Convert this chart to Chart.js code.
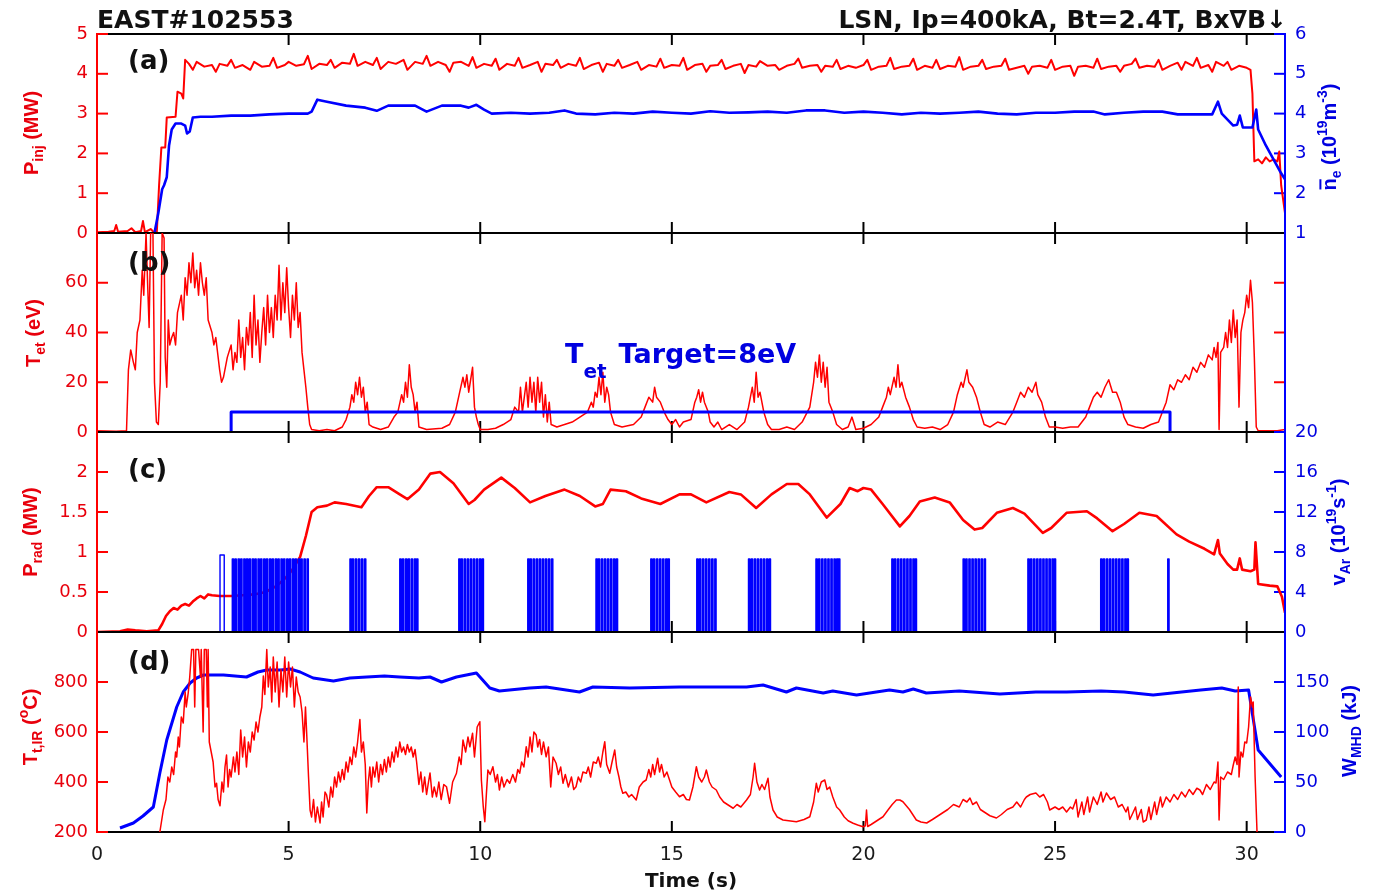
<!DOCTYPE html>
<html><head><meta charset="utf-8">
<script src="https://cdn.jsdelivr.net/npm/chart.js@4.4.1/dist/chart.umd.min.js"></script>
<style>
html,body{margin:0;padding:0;background:#fff;}
#wrap{position:relative;width:1378px;height:891px;overflow:hidden;background:#fff}
#wrap canvas{position:absolute;left:0;top:0}
</style></head><body>
<div id="wrap">
<canvas id="ca" width="1378" height="891"></canvas>
<canvas id="cb" width="1378" height="891"></canvas>
<canvas id="cc" width="1378" height="891"></canvas>
<canvas id="cd" width="1378" height="891"></canvas>
</div>
<script>
// ---------------- texts ----------------
const titleLeft = 'EAST#102553';
const titleRight = 'LSN, Ip=400kA, Bt=2.4T, Bx\u2207B\u2193';
const xTitle = 'Time (s)';
const panelTags = ['(a)', '(b)', '(c)', '(d)'];

// ---------------- tick labels ----------------
const timeTicks = [0, 5, 10, 15, 20, 25, 30];
const aLeftTicks = [0, 1, 2, 3, 4, 5];
const aRightTicks = [1, 2, 3, 4, 5, 6];
const bLeftTicks = [0, 20, 40, 60];
const cLeftTicks = [0, 0.5, 1, 1.5, 2];
const cRightTicks = [0, 4, 8, 12, 16, 20];
const dLeftTicks = [200, 400, 600, 800];
const dRightTicks = [0, 50, 100, 150];

// ---------------- data: [time (s), value] ----------------
// (a) injected power P_inj (MW)
const pinjSeries = [[0,0.02],[0.3,0.03],[0.45,0.05],[0.5,0.2],[0.55,0.03],[0.8,0.05],[0.9,0.12],[1.0,0.02],[1.15,0.05],[1.2,0.3],[1.25,0.02],[1.4,0.1],[1.5,0],[1.56,0],[1.62,1.2],[1.68,2.15],[1.78,2.15],[1.82,2.9],[2.05,2.92],[2.1,3.55],[2.2,3.5],[2.25,3.38],[2.3,4.35],
[2.4,4.25],[2.5,4.1],[2.6,4.3],[2.8,4.18],[3.0,4.22],[3.1,4.05],[3.2,4.25],[3.4,4.2],[3.5,4.35],[3.6,4.15],[3.8,4.22],[4.0,4.1],[4.1,4.3],[4.3,4.18],[4.5,4.2],[4.6,4.4],[4.7,4.15],[4.9,4.22],[5.0,4.3],[5.2,4.2],[5.4,4.24],[5.5,4.45],[5.6,4.12],[5.8,4.25],[6.0,4.22],[6.1,4.35],[6.2,4.15],[6.4,4.28],[6.6,4.25],[6.7,4.5],[6.8,4.2],[7.0,4.3],[7.2,4.22],[7.3,4.4],[7.4,4.12],[7.6,4.3],[7.8,4.25],[8.0,4.35],[8.1,4.1],[8.3,4.3],[8.5,4.25],[8.6,4.45],[8.7,4.2],[8.9,4.3],[9.1,4.22],[9.2,4.05],[9.3,4.28],[9.5,4.3],[9.7,4.2],[9.8,4.42],[9.9,4.15],[10.1,4.25],[10.3,4.2],[10.4,4.38],[10.5,4.1],[10.7,4.25],[10.9,4.2],[11.0,4.4],[11.1,4.15],[11.3,4.22],[11.5,4.3],[11.6,4.05],[11.7,4.25],[11.9,4.22],[12.0,4.35],[12.1,4.15],[12.3,4.25],[12.5,4.2],[12.6,4.4],[12.7,4.12],[12.9,4.22],[13.1,4.28],[13.2,4.05],[13.3,4.25],[13.5,4.2],[13.6,4.35],[13.7,4.15],[13.9,4.22],[14.1,4.3],[14.2,4.1],[14.4,4.22],[14.6,4.18],[14.7,4.38],[14.8,4.15],[15.0,4.22],[15.2,4.2],[15.3,4.4],[15.4,4.1],[15.6,4.22],[15.8,4.25],[15.9,4.05],[16.0,4.2],[16.2,4.22],[16.3,4.35],[16.4,4.12],[16.6,4.2],[16.8,4.25],[16.9,4.02],[17.0,4.22],[17.2,4.18],[17.3,4.32],[17.5,4.2],[17.7,4.22],[17.8,4.1],[18.0,4.2],[18.2,4.25],[18.3,4.38],[18.4,4.15],[18.6,4.2],[18.8,4.22],[18.9,4.05],[19.0,4.2],[19.2,4.18],[19.3,4.35],[19.4,4.12],[19.6,4.2],[19.8,4.15],[20.0,4.22],[20.1,4.35],[20.2,4.1],[20.4,4.18],[20.6,4.2],[20.7,4.4],[20.8,4.12],[21.0,4.18],[21.2,4.2],[21.3,4.38],[21.4,4.1],[21.6,4.2],[21.8,4.15],[21.9,4.35],[22.0,4.12],[22.2,4.2],[22.4,4.18],[22.5,4.42],[22.6,4.1],[22.8,4.18],[23.0,4.2],[23.1,4.35],[23.2,4.12],[23.4,4.18],[23.6,4.2],[23.7,4.38],[23.8,4.1],[24.0,4.15],[24.2,4.2],[24.3,4.0],[24.4,4.18],[24.6,4.2],[24.8,4.15],[24.9,4.35],[25.0,4.1],[25.2,4.18],[25.4,4.2],[25.5,3.95],[25.6,4.18],[25.8,4.2],[26.0,4.15],[26.1,4.38],[26.2,4.12],[26.4,4.18],[26.6,4.2],[26.7,4.05],[26.8,4.2],[27.0,4.25],[27.1,4.38],[27.2,4.15],[27.4,4.2],[27.6,4.18],[27.7,4.35],[27.8,4.1],[28.0,4.2],[28.2,4.28],[28.3,4.1],[28.4,4.3],[28.6,4.2],[28.7,4.4],[28.8,4.15],[29.0,4.22],[29.1,4.05],[29.2,4.3],[29.4,4.2],[29.5,4.3],[29.6,4.1],[29.8,4.2],[30.0,4.15],[30.1,4.1],[30.15,3.5],[30.2,1.8],[30.3,1.85],[30.4,1.75],[30.5,1.9],[30.6,1.8],[30.7,1.85],[30.8,1.8],[30.85,2.05],[30.9,1.2],[31.0,0.5]];

// (a) line-averaged density n_e (1e19 m^-3)
const neSeries = [[1.5,1.0],[1.6,1.5],[1.7,2.1],[1.75,2.2],[1.82,2.4],[1.88,3.2],[1.95,3.6],[2.05,3.75],[2.2,3.75],[2.3,3.7],[2.35,3.5],[2.42,3.55],[2.5,3.9],[2.7,3.92],[3.0,3.92],[3.5,3.95],[4.0,3.95],[4.5,3.98],[5.0,4.0],[5.5,4.0],[5.6,4.05],[5.75,4.35],[6.0,4.3],[6.5,4.2],[7.0,4.15],[7.3,4.07],[7.6,4.2],[8.0,4.2],[8.3,4.2],[8.6,4.05],[9.0,4.2],[9.5,4.2],[9.7,4.15],[9.9,4.22],[10.1,4.1],[10.3,4.0],[10.8,4.02],[11.3,4.0],[11.8,4.02],[12.2,4.08],[12.5,4.0],[13.0,3.98],[13.5,4.02],[14.0,4.0],[14.5,4.05],[15.0,4.02],[15.5,4.0],[16.0,4.06],[16.5,4.02],[17.0,4.03],[17.5,4.05],[18.0,4.02],[18.5,4.08],[19.0,4.08],[19.5,4.02],[20.0,4.05],[20.5,4.02],[21.0,3.98],[21.5,4.02],[22.0,4.0],[22.5,4.02],[23.0,4.05],[23.5,4.0],[24.0,3.98],[24.5,4.02],[25.0,4.02],[25.5,4.05],[26.0,4.05],[26.3,3.98],[26.8,4.02],[27.3,4.05],[27.8,4.05],[28.2,3.98],[28.6,3.98],[29.1,3.98],[29.25,4.3],[29.35,4.0],[29.5,3.85],[29.65,3.7],[29.75,3.72],[29.82,3.95],[29.9,3.65],[30.15,3.65],[30.25,4.1],[30.3,3.6],[30.5,3.2],[30.7,2.85],[30.9,2.5],[31.0,2.35]];

// (b) target electron temperature T_et (eV)
const tetSeries = [[0,0.5],[0.5,0.3],[0.77,0.5],[0.82,25],[0.88,33],[0.95,28],[1.0,25],[1.05,40],[1.12,45],[1.18,65],[1.22,55],[1.28,80],[1.32,60],[1.36,42],[1.4,80],[1.46,80],[1.5,20],[1.55,4],[1.6,3],[1.65,20],[1.7,80],[1.75,78],[1.78,30],[1.82,18],[1.86,45],[1.9,35],[1.95,38],[2.0,40],[2.05,35],[2.1,48],[2.2,55],[2.25,45],[2.3,62],[2.35,55],[2.4,68],[2.45,60],[2.5,72],[2.55,58],[2.6,65],[2.65,55],[2.7,68],[2.75,60],[2.8,55],[2.85,62],[2.9,45],[3.0,40],[3.05,35],[3.1,38],[3.2,25],[3.25,20],[3.3,22],[3.4,30],[3.5,35],[3.55,25],[3.6,32],[3.65,28],[3.7,45],[3.75,30],[3.8,38],[3.85,25],[3.9,42],[3.95,35],[4.0,48],[4.05,30],[4.1,55],[4.15,35],[4.2,45],[4.25,28],[4.3,40],[4.35,50],[4.4,35],[4.45,55],[4.5,40],[4.55,50],[4.6,38],[4.65,55],[4.7,45],[4.75,67],[4.8,45],[4.85,60],[4.9,48],[4.95,66],[5.0,50],[5.05,38],[5.1,55],[5.15,45],[5.2,60],[5.25,42],[5.3,48],[5.35,32],[5.4,25],[5.45,18],[5.5,10],[5.55,3],[5.6,1],[5.8,0.5],[6.0,1],[6.2,0.5],[6.4,2],[6.5,5],[6.6,10],[6.65,15],[6.7,12],[6.75,20],[6.8,15],[6.85,22],[6.9,14],[6.95,18],[7.0,8],[7.05,12],[7.1,3],[7.2,2],[7.4,1],[7.6,2],[7.75,6],[7.85,8],[7.95,15],[8.0,12],[8.05,20],[8.1,14],[8.15,27],[8.2,18],[8.25,15],[8.3,8],[8.35,12],[8.4,2],[8.6,1],[9.0,1.5],[9.2,3],[9.35,8],[9.45,15],[9.55,22],[9.6,18],[9.65,23],[9.7,16],[9.8,26],[9.85,10],[9.9,6],[9.95,3],[10.0,1],[10.2,1],[10.4,1.5],[10.6,3],[10.8,5],[10.9,10],[11.0,8],[11.05,18],[11.1,8],[11.2,20],[11.25,10],[11.3,22],[11.35,12],[11.4,20],[11.45,8],[11.5,22],[11.55,12],[11.6,20],[11.65,6],[11.7,15],[11.75,4],[11.8,12],[11.85,3],[12.0,2],[12.2,3],[12.4,4],[12.6,6],[12.8,8],[12.9,12],[12.95,10],[13.0,16],[13.05,14],[13.1,22],[13.15,15],[13.2,24],[13.25,12],[13.3,18],[13.35,15],[13.4,8],[13.5,3],[13.7,2],[14.0,3],[14.2,6],[14.3,10],[14.4,14],[14.5,12],[14.55,18],[14.6,14],[14.7,12],[14.8,8],[14.9,5],[15.0,3],[15.1,5],[15.2,2],[15.3,4],[15.5,5],[15.6,12],[15.65,14],[15.7,17],[15.75,12],[15.8,16],[15.85,12],[15.95,8],[16.0,4],[16.1,2],[16.2,4],[16.3,1],[16.5,3],[16.7,1],[16.9,4],[17.0,10],[17.05,14],[17.1,18],[17.15,12],[17.2,24],[17.25,14],[17.3,16],[17.4,8],[17.5,3],[17.6,1],[17.8,1],[18.0,2],[18.2,1],[18.4,4],[18.6,10],[18.7,20],[18.75,28],[18.8,22],[18.85,31],[18.9,20],[18.95,28],[19.0,18],[19.05,26],[19.1,12],[19.2,8],[19.3,3],[19.45,1],[19.6,2],[19.7,6],[19.8,1],[20.0,1.5],[20.2,3],[20.4,6],[20.5,10],[20.6,14],[20.65,18],[20.7,15],[20.8,22],[20.85,18],[20.9,27],[20.95,18],[21.0,20],[21.1,14],[21.2,10],[21.3,5],[21.4,2],[21.6,1.5],[21.8,2],[22.0,1],[22.2,3],[22.35,8],[22.45,15],[22.55,20],[22.6,18],[22.7,25],[22.75,20],[22.85,18],[22.95,14],[23.05,8],[23.15,3],[23.3,2],[23.5,4],[23.7,3],[23.9,8],[24.0,12],[24.1,16],[24.2,14],[24.3,18],[24.4,16],[24.5,20],[24.55,15],[24.65,12],[24.75,6],[24.85,2],[25.0,2],[25.2,1.5],[25.4,2],[25.6,2],[25.8,6],[25.9,10],[26.0,14],[26.1,16],[26.2,14],[26.3,18],[26.4,21],[26.5,16],[26.6,16],[26.7,12],[26.8,6],[26.9,3],[27.1,2],[27.3,1.5],[27.5,3],[27.7,4],[27.8,8],[27.9,12],[28.0,19],[28.1,17],[28.2,21],[28.3,20],[28.4,23],[28.5,21],[28.6,26],[28.7,24],[28.8,28],[28.9,26],[29.0,31],[29.1,29],[29.15,34],[29.2,30],[29.25,36],[29.28,1],[29.32,32],[29.4,34],[29.45,40],[29.5,34],[29.55,45],[29.6,36],[29.65,49],[29.7,38],[29.75,45],[29.8,10],[29.85,40],[29.9,45],[29.95,48],[30.0,55],[30.05,50],[30.1,61],[30.15,52],[30.2,30],[30.25,2],[30.3,0.5],[30.8,0.5],[31.0,1]];

// (b) feedback target (eV)
const tetTarget = [[3.5,0],[3.5,8],[28.0,8],[28.0,0]];

// (c) radiated power P_rad (MW)
const pradSeries = [[0,0],[0.6,0.01],[0.8,0.03],[1.0,0.02],[1.3,0.01],[1.6,0.02],[1.7,0.1],[1.8,0.2],[1.9,0.26],[2.0,0.3],[2.1,0.28],[2.2,0.33],[2.3,0.35],[2.4,0.33],[2.5,0.38],[2.6,0.42],[2.7,0.45],[2.8,0.42],[2.9,0.47],[3.0,0.46],[3.2,0.45],[3.5,0.45],[3.8,0.46],[4.1,0.47],[4.4,0.5],[4.7,0.58],[4.95,0.69],[5.1,0.78],[5.3,0.94],[5.45,1.2],[5.6,1.5],[5.75,1.56],[6.0,1.58],[6.2,1.62],[6.5,1.6],[6.9,1.56],[7.1,1.7],[7.3,1.81],[7.6,1.81],[7.9,1.72],[8.1,1.66],[8.4,1.78],[8.7,1.98],[8.95,2.0],[9.3,1.86],[9.7,1.6],[9.85,1.65],[10.1,1.78],[10.55,1.93],[10.9,1.8],[11.3,1.62],[11.7,1.7],[12.2,1.78],[12.6,1.7],[13.0,1.57],[13.2,1.6],[13.4,1.78],[13.8,1.76],[14.2,1.67],[14.7,1.6],[15.2,1.72],[15.5,1.72],[15.9,1.62],[16.5,1.75],[16.8,1.72],[17.2,1.55],[17.6,1.72],[18.0,1.85],[18.3,1.85],[18.6,1.72],[19.04,1.43],[19.4,1.6],[19.64,1.8],[19.85,1.76],[20.0,1.8],[20.2,1.78],[20.5,1.6],[20.95,1.32],[21.2,1.45],[21.47,1.63],[21.86,1.68],[22.25,1.62],[22.6,1.4],[22.9,1.28],[23.1,1.3],[23.48,1.49],[23.9,1.55],[24.2,1.48],[24.68,1.24],[24.9,1.3],[25.3,1.49],[25.83,1.51],[26.1,1.42],[26.5,1.26],[26.8,1.35],[27.2,1.49],[27.65,1.45],[28.17,1.22],[28.5,1.13],[28.9,1.04],[29.15,0.97],[29.25,1.15],[29.3,0.98],[29.5,0.85],[29.65,0.78],[29.75,0.78],[29.82,0.92],[29.88,0.78],[30.1,0.76],[30.2,0.78],[30.23,1.12],[30.3,0.6],[30.6,0.58],[30.8,0.57],[30.92,0.44],[31.0,0.24]];

// (c) argon puff pulses v_Ar (1e19 s^-1)
const arFirstPulse = [3.21, 3.32];
const arFirstPulseH = 7.7;
const arPulseH = 7.3;
const arPulseWidth = 0.035;
const arPulseStarts = [3.53,3.60,3.68,3.75,3.83,3.90,3.97,4.05,4.12,4.20,4.27,4.35,4.42,4.50,4.57,4.65,4.72,4.80,4.87,4.95,5.02,5.10,5.17,5.25,5.32,5.40,5.48,
6.60,6.66,6.74,6.82,6.90,6.98,
7.90,7.97,8.05,8.12,8.20,8.28,8.34,
9.44,9.50,9.58,9.66,9.74,9.82,9.90,9.98,10.05,
11.24,11.30,11.38,11.46,11.54,11.62,11.70,11.78,11.86,
13.02,13.08,13.16,13.24,13.32,13.40,13.48,13.55,
14.45,14.52,14.60,14.68,14.76,14.84,14.90,
15.65,15.72,15.80,15.88,15.96,16.04,16.12,
17.00,17.07,17.15,17.23,17.31,17.39,17.47,17.54,
18.76,18.83,18.91,18.99,19.07,19.15,19.23,19.30,19.35,
20.74,20.81,20.89,20.97,21.05,21.13,21.21,21.29,21.35,
22.60,22.67,22.75,22.83,22.91,22.99,23.07,23.15,
24.29,24.36,24.44,24.52,24.60,24.68,24.76,24.84,24.92,24.98,
26.19,26.26,26.34,26.42,26.50,26.58,26.66,26.74,26.82,26.88,
27.94];

// (d) IR target temperature T_t,IR (degC)
const ttirSeries = [[1.55,100],[1.64,200],[1.73,288],[1.8,330],[1.85,420],[1.9,400],[1.95,460],[2.0,430],[2.05,520],[2.08,500],[2.12,580],[2.15,540],[2.2,660],[2.25,636],[2.3,760],[2.33,700],[2.38,756],[2.42,820],[2.47,930],[2.52,930],[2.55,700],[2.58,930],[2.65,930],[2.7,820],[2.72,930],[2.77,600],[2.8,930],[2.85,930],[2.88,700],[2.9,930],[2.93,560],[2.98,520],[3.03,480],[3.08,380],[3.12,395],[3.16,330],[3.21,305],[3.26,400],[3.3,360],[3.34,460],[3.38,508],[3.42,380],[3.46,450],[3.5,420],[3.56,500],[3.6,440],[3.65,520],[3.7,430],[3.75,608],[3.8,500],[3.85,580],[3.9,460],[3.95,560],[4.0,520],[4.05,600],[4.1,568],[4.15,640],[4.2,600],[4.25,660],[4.3,700],[4.34,824],[4.38,750],[4.43,930],[4.47,780],[4.52,860],[4.56,720],[4.6,900],[4.65,760],[4.7,880],[4.75,700],[4.8,850],[4.85,760],[4.9,900],[4.95,740],[5.0,880],[5.05,780],[5.1,860],[5.15,700],[5.2,820],[5.25,760],[5.3,740],[5.35,680],[5.4,560],[5.44,700],[5.47,600],[5.52,420],[5.56,288],[5.6,260],[5.65,330],[5.7,240],[5.75,300],[5.82,236],[5.86,320],[5.9,260],[5.95,360],[5.99,349],[6.05,300],[6.1,380],[6.15,340],[6.2,420],[6.25,380],[6.3,440],[6.35,400],[6.4,450],[6.45,410],[6.5,480],[6.55,440],[6.6,500],[6.65,470],[6.7,540],[6.75,500],[6.8,560],[6.86,650],[6.9,520],[6.95,560],[7.0,470],[7.04,276],[7.08,400],[7.12,460],[7.16,380],[7.2,460],[7.25,420],[7.3,480],[7.35,400],[7.4,470],[7.45,430],[7.5,490],[7.55,440],[7.6,500],[7.65,460],[7.7,520],[7.75,480],[7.8,540],[7.85,500],[7.9,560],[7.95,520],[8.0,540],[8.05,510],[8.1,550],[8.15,520],[8.2,540],[8.25,500],[8.3,530],[8.34,480],[8.4,390],[8.45,440],[8.5,360],[8.55,420],[8.6,350],[8.65,400],[8.69,436],[8.75,340],[8.8,380],[8.86,341],[8.92,400],[8.98,330],[9.05,390],[9.12,381],[9.2,315],[9.28,400],[9.38,435],[9.45,500],[9.5,470],[9.55,568],[9.62,520],[9.68,580],[9.73,541],[9.8,595],[9.85,500],[9.92,620],[9.99,641],[10.03,408],[10.08,300],[10.12,241],[10.16,350],[10.2,448],[10.26,430],[10.33,461],[10.4,400],[10.45,430],[10.5,368],[10.56,420],[10.62,380],[10.7,410],[10.77,395],[10.85,430],[10.92,400],[10.98,450],[11.03,435],[11.08,480],[11.14,460],[11.2,541],[11.25,500],[11.3,580],[11.35,520],[11.4,600],[11.46,588],[11.5,540],[11.55,570],[11.6,510],[11.65,560],[11.72,501],[11.78,540],[11.84,380],[11.9,500],[11.98,475],[12.04,430],[12.1,460],[12.16,395],[12.22,430],[12.3,380],[12.38,420],[12.44,370],[12.5,381],[12.56,420],[12.62,400],[12.68,440],[12.77,435],[12.82,460],[12.88,420],[12.95,480],[13.03,475],[13.08,500],[13.14,460],[13.2,520],[13.25,561],[13.3,470],[13.38,435],[13.44,480],[13.51,528],[13.56,460],[13.62,420],[13.67,380],[13.72,355],[13.8,360],[13.88,340],[13.95,350],[14.07,328],[14.15,380],[14.25,400],[14.33,408],[14.4,450],[14.45,420],[14.5,470],[14.55,430],[14.63,495],[14.68,440],[14.73,470],[14.8,420],[14.87,440],[14.94,408],[15.0,380],[15.1,360],[15.2,341],[15.3,350],[15.38,330],[15.46,328],[15.55,380],[15.64,461],[15.7,420],[15.78,400],[15.85,420],[15.9,448],[15.98,400],[16.05,380],[16.16,368],[16.25,340],[16.35,320],[16.45,310],[16.6,295],[16.7,310],[16.8,300],[16.95,328],[17.05,350],[17.12,420],[17.16,475],[17.22,400],[17.29,368],[17.35,390],[17.42,370],[17.51,415],[17.56,340],[17.64,288],[17.75,260],[17.9,248],[18.05,245],[18.25,241],[18.45,250],[18.6,261],[18.7,320],[18.77,395],[18.82,360],[18.9,400],[18.99,408],[19.05,370],[19.12,380],[19.2,340],[19.3,300],[19.38,288],[19.5,260],[19.6,245],[19.73,235],[19.85,228],[19.99,221],[20.05,225],[20.08,288],[20.11,222],[20.2,230],[20.35,245],[20.51,261],[20.65,290],[20.75,310],[20.86,328],[20.95,328],[21.03,321],[21.2,290],[21.38,248],[21.5,240],[21.65,236],[21.8,250],[22.0,270],[22.2,290],[22.35,310],[22.5,300],[22.6,330],[22.7,320],[22.78,336],[22.85,310],[22.95,320],[23.05,290],[23.15,280],[23.3,265],[23.47,256],[23.6,270],[23.75,290],[23.9,300],[24.0,320],[24.1,300],[24.2,330],[24.25,340],[24.35,350],[24.5,356],[24.6,340],[24.7,350],[24.8,320],[24.86,288],[25.0,300],[25.1,290],[25.2,300],[25.3,280],[25.4,300],[25.46,292],[25.55,330],[25.6,260],[25.7,320],[25.75,270],[25.85,340],[25.9,280],[26.0,340],[26.1,310],[26.2,360],[26.25,320],[26.34,356],[26.45,330],[26.55,340],[26.65,300],[26.75,310],[26.85,280],[26.9,300],[26.95,250],[27.03,276],[27.1,300],[27.15,250],[27.25,290],[27.3,240],[27.38,248],[27.45,300],[27.5,250],[27.6,320],[27.65,270],[27.75,340],[27.8,300],[27.9,340],[28.0,320],[28.1,350],[28.2,330],[28.3,360],[28.4,340],[28.5,370],[28.6,350],[28.7,375],[28.78,368],[28.85,350],[28.95,390],[29.05,370],[29.15,400],[29.2,396],[29.25,480],[29.28,248],[29.32,420],[29.4,410],[29.5,440],[29.6,430],[29.65,468],[29.7,500],[29.75,470],[29.78,780],[29.8,420],[29.85,520],[29.9,500],[29.95,560],[30.0,556],[30.05,620],[30.1,740],[30.15,700],[30.17,720],[30.22,420],[30.27,200],[30.3,100]];

// (d) stored energy W_MHD (kJ)
const wmhdSeries = [[0.6,4],[0.95,9],[1.2,16],[1.47,25],[1.64,59],[1.82,92],[2.08,125],[2.25,140],[2.43,149],[2.6,154],[2.78,157],[3.3,157],[3.9,155],[4.2,160],[4.43,162],[4.8,162],[5.04,163],[5.3,160],[5.64,154],[6.17,151],[6.6,154],[7.04,155],[7.5,156],[7.9,155],[8.4,154],[8.69,155],[8.99,150],[9.38,155],[9.9,159],[10.25,144],[10.5,141],[11.29,144],[11.72,145],[12.59,140],[12.94,145],[13.9,144],[15.2,145],[16.95,145],[17.38,147],[17.99,140],[18.25,144],[18.95,139],[19.2,141],[19.82,137],[20.68,142],[21.03,140],[21.3,143],[21.64,139],[22.5,141],[23.56,138],[24.5,140],[25.3,140],[26.2,141],[26.8,140],[27.56,137],[28.3,140],[28.8,142],[29.35,144],[29.7,141],[30.05,142],[30.3,82],[30.9,55]];

// ---------------- styling / layout ----------------
const RED = '#ff0000', BLUE = '#0000ff', RED_T = '#e8000c', BLUE_T = '#0000e0';
const HF = '"DejaVu Sans", sans-serif';
const VF = '"Liberation Sans", Arial, sans-serif';
const LW = 60, RW = 60, XH = 45, TL = 11, CW = 1378, CH = 891;
const PAD_L = 37, PAD_R = 33;

function pts(arr) { return arr.map(d => ({ x: d[0], y: d[1] })); }
function arPoints() {
  const out = [{ x: 0, y: 0 }];
  const add = (s, e, h) => { out.push({ x: s, y: 0 }, { x: s, y: h }, { x: e, y: h }, { x: e, y: 0 }); };
  add(arFirstPulse[0], arFirstPulse[1], arFirstPulseH);
  arPulseStarts.forEach(s => add(s, s + arPulseWidth, arPulseH));
  out.push({ x: 31, y: 0 });
  return out;
}

const panels = [
  { id: 'ca', top: 34, bottom: 233, yl: [0, 5], yr: [1, 6], lt: aLeftTicks, rt: aRightTicks, rtShow: true,
    rtScale: 'y2', rtMarks: aRightTicks, rtColor: BLUE,
    datasets: [
      { data: pts(neSeries), yAxisID: 'y2', borderColor: BLUE, borderWidth: 2.6 },
      { data: pts(pinjSeries), yAxisID: 'y', borderColor: RED, borderWidth: 2 }] },
  { id: 'cb', top: 233, bottom: 432, yl: [0, 80], yr: [0, 80], lt: bLeftTicks, rt: [], rtShow: false,
    rtScale: 'y', rtMarks: bLeftTicks, rtColor: RED,
    datasets: [
      { data: pts(tetTarget), yAxisID: 'y', borderColor: BLUE, borderWidth: 3 },
      { data: pts(tetSeries), yAxisID: 'y', borderColor: RED, borderWidth: 1.5 }] },
  { id: 'cc', top: 432, bottom: 632, yl: [0, 2.5], yr: [0, 20], lt: cLeftTicks, rt: cRightTicks, rtShow: true,
    rtScale: 'y2', rtMarks: cRightTicks, rtColor: BLUE,
    datasets: [
      { data: arPoints(), yAxisID: 'y2', borderColor: BLUE, borderWidth: 1.4 },
      { data: pts(pradSeries), yAxisID: 'y', borderColor: RED, borderWidth: 2.6 }] },
  { id: 'cd', top: 632, bottom: 832, yl: [200, 1000], yr: [0, 200], lt: dLeftTicks, rt: dRightTicks, rtShow: true,
    rtScale: 'y2', rtMarks: dRightTicks, rtColor: BLUE, xaxis: true,
    datasets: [
      { data: pts(ttirSeries), yAxisID: 'y', borderColor: RED, borderWidth: 1.5 },
      { data: pts(wmhdSeries), yAxisID: 'y2', borderColor: BLUE, borderWidth: 3 }] }
];

function framePlugin(p) {
  return {
    id: 'frame_' + p.id,
    beforeDatasetsDraw(chart) {
      const { ctx, chartArea: a, scales } = chart;
      const ln = (x1, y1, x2, y2) => { ctx.beginPath(); ctx.moveTo(x1, y1); ctx.lineTo(x2, y2); ctx.stroke(); };
      ctx.save();
      ctx.lineWidth = 2;
      ctx.strokeStyle = '#000';
      timeTicks.forEach(v => {
        if (v === 0) return;
        const x = scales.x.getPixelForValue(v);
        ln(x, a.top, x, a.top + TL); ln(x, a.bottom, x, a.bottom - TL);
      });
      ln(a.left, a.top, a.right, a.top);
      ln(a.left, a.bottom, a.right, a.bottom);
      ctx.strokeStyle = RED;
      p.lt.forEach(v => { const y = scales.y.getPixelForValue(v); ln(a.left, y, a.left + TL, y); });
      ctx.strokeStyle = p.rtColor;
      const rs = scales[p.rtScale];
      p.rtMarks.forEach(v => { const y = rs.getPixelForValue(v); ln(a.right - TL, y, a.right, y); });
      ctx.restore();
    },
    afterDatasetsDraw(chart) {
      const { ctx, chartArea: a } = chart;
      ctx.save();
      ctx.lineWidth = 2;
      ctx.strokeStyle = RED;
      ctx.beginPath(); ctx.moveTo(a.left, a.top - 1); ctx.lineTo(a.left, a.bottom + 1); ctx.stroke();
      ctx.strokeStyle = BLUE;
      ctx.beginPath(); ctx.moveTo(a.right, a.top - 1); ctx.lineTo(a.right, a.bottom + 1); ctx.stroke();
      ctx.restore();
    }
  };
}

function rich(ctx, parts, cx, cy, rot, color, align) {
  ctx.save();
  ctx.translate(cx, cy); ctx.rotate(rot);
  ctx.fillStyle = color; ctx.strokeStyle = color;
  ctx.textAlign = 'left'; ctx.textBaseline = 'alphabetic';
  let w = 0;
  parts.forEach(p => { ctx.font = 'bold ' + p.s + 'px ' + (p.f || VF); p.w = ctx.measureText(p.t).width + (p.gap || 0); w += p.w; });
  let x = align === 'left' ? 0 : -w / 2;
  parts.forEach(p => {
    ctx.font = 'bold ' + p.s + 'px ' + (p.f || VF);
    x += (p.gap || 0);
    ctx.fillText(p.t, x, p.dy);
    if (p.bar) {
      ctx.lineWidth = 2;
      ctx.beginPath(); ctx.moveTo(x + 1, p.dy - p.s * 0.78); ctx.lineTo(x + p.w - 1, p.dy - p.s * 0.78); ctx.stroke();
    }
    x += p.w - (p.gap || 0);
  });
  ctx.restore();
}

const M = 20, S = 14;
const sub = t => ({ t, s: S, dy: 12 });
const sup = t => ({ t, s: S, dy: -2 });
const main = t => ({ t, s: M, dy: 7 });
const axisTitles = [
  { parts: [main('P'), sub('inj'), main(' (MW)')], x: 31, y: 133, c: RED_T },
  { parts: [main('T'), sub('et'), main(' (eV)')], x: 33, y: 333, c: RED_T },
  { parts: [main('P'), sub('rad'), main(' (MW)')], x: 30, y: 532, c: RED_T },
  { parts: [main('T'), sub('t,IR'), main(' ('), sup('o'), main('C)')], x: 30, y: 727, c: RED_T },
  { parts: [Object.assign(main('n'), { bar: true }), sub('e'), main(' (10'), sup('19'), main('m'), sup('-3'), main(')')], x: 1329, y: 137, c: BLUE_T },
  { parts: [main('v'), sub('Ar'), main(' (10'), sup('19'), main('s'), sup('-1'), main(')')], x: 1338, y: 532, c: BLUE_T },
  { parts: [main('W'), sub('MHD'), main(' (kJ)')], x: 1349, y: 731, c: BLUE_T }
];
const tagBaselines = [69, 271, 478, 670];

const textPlugin = {
  id: 'texts',
  afterDraw(chart) {
    const ctx = chart.ctx;
    ctx.save();
    ctx.fillStyle = '#111';
    ctx.textBaseline = 'alphabetic';
    ctx.font = 'bold 25px ' + HF;
    ctx.textAlign = 'left'; ctx.fillText(titleLeft, 97, 28);
    ctx.textAlign = 'right'; ctx.fillText(titleRight, 1287, 28);
    ctx.font = 'bold 26px ' + HF; ctx.textAlign = 'left';
    panelTags.forEach((t, i) => ctx.fillText(t, 128, tagBaselines[i]));
    ctx.font = 'bold 20px ' + HF; ctx.textAlign = 'center';
    ctx.fillText(xTitle, 691, 887);
    ctx.restore();
    axisTitles.forEach(a => rich(ctx, a.parts, a.x, a.y, -Math.PI / 2, a.c, 'center'));
    rich(ctx, [{ t: 'T', s: 27, dy: 0, f: HF }, { t: 'et', s: 20, dy: 15, f: HF }, { t: 'Target=8eV', s: 27, dy: 0, f: HF, gap: 12 }],
      565, 363, 0, BLUE_T, 'left');
  }
};

panels.forEach((p, i) => {
  const bottomPad = p.xaxis ? CH - p.bottom - XH : CH - p.bottom;
  const xScale = {
    type: 'linear', min: 0, max: 31, display: !!p.xaxis,
    grid: { display: false, drawTicks: false }, border: { display: false },
    afterBuildTicks: s => { s.ticks = timeTicks.map(v => ({ value: v })); },
    ticks: { autoSkip: false, maxRotation: 0, padding: 12, color: '#1a1a1a', font: { family: HF, size: 19 } }
  };
  if (p.xaxis) xScale.afterFit = s => { s.height = XH; };
  const cfg = {
    type: 'line',
    data: { datasets: p.datasets.map(d => Object.assign({ pointRadius: 0, pointHoverRadius: 0, fill: false, tension: 0, borderJoinStyle: 'round', spanGaps: true }, d)) },
    options: {
      responsive: false, animation: false, events: [],
      layout: { padding: { left: PAD_L, right: PAD_R, top: p.top, bottom: bottomPad } },
      plugins: { legend: { display: false }, tooltip: { enabled: false } },
      scales: {
        x: xScale,
        y: {
          type: 'linear', position: 'left', min: p.yl[0], max: p.yl[1],
          grid: { display: false, drawTicks: false }, border: { display: false },
          afterBuildTicks: s => { s.ticks = p.lt.map(v => ({ value: v })); },
          afterFit: s => { s.width = LW; },
          ticks: { autoSkip: false, padding: 9, color: RED_T, font: { family: HF, size: 18 }, callback: v => String(v) }
        },
        y2: {
          type: 'linear', position: 'right', min: p.yr[0], max: p.yr[1],
          grid: { display: false, drawTicks: false }, border: { display: false },
          afterBuildTicks: s => { s.ticks = (p.rt.length ? p.rt : [p.yr[0]]).map(v => ({ value: v })); },
          afterFit: s => { s.width = RW; },
          ticks: { display: p.rtShow, autoSkip: false, padding: 10, color: BLUE_T, font: { family: HF, size: 18 }, callback: v => String(v) }
        }
      }
    },
    plugins: [framePlugin(p)].concat(p.xaxis ? [textPlugin] : [])
  };
  new Chart(document.getElementById(p.id), cfg);
});
</script>
</body></html>
